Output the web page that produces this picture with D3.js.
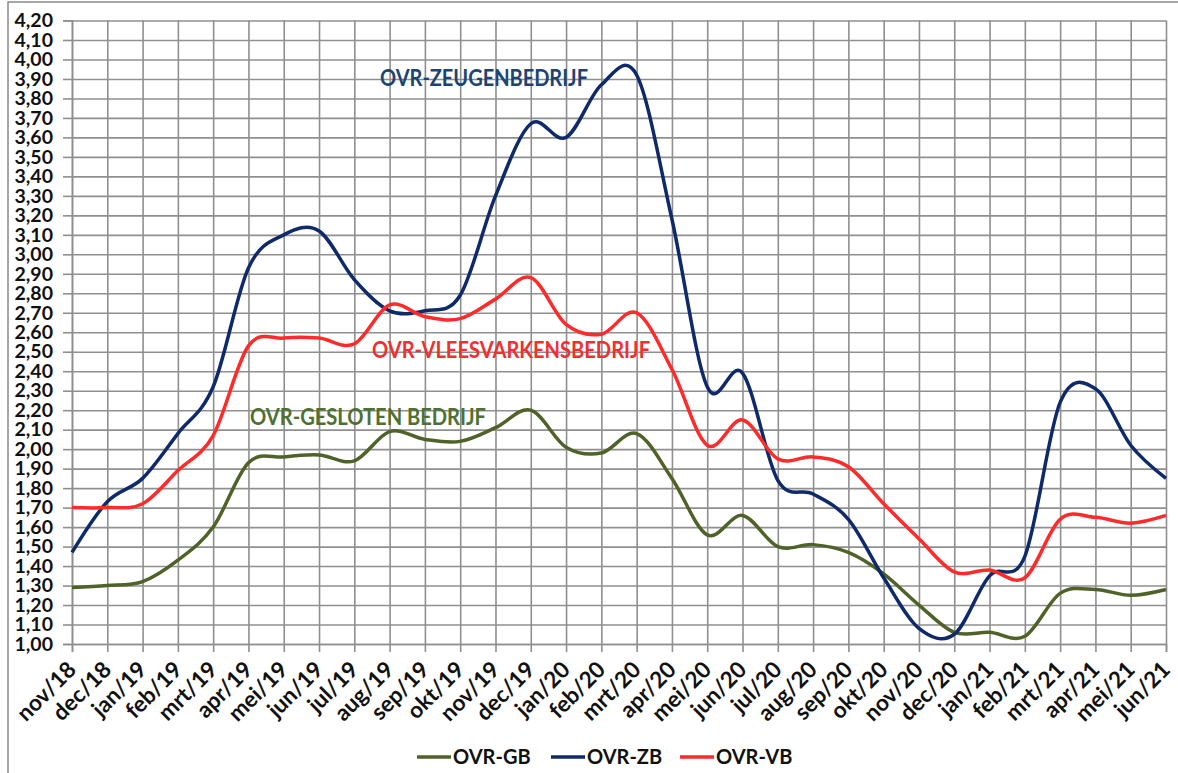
<!DOCTYPE html>
<html>
<head>
<meta charset="utf-8">
<script src="https://cdn.jsdelivr.net/npm/d3@7"></script>
<style>
  body { margin: 0; background: #fff; }
  svg text { font-family: Lato, "Open Sans", sans-serif; font-weight: bold; }
</style>
</head>
<body>
<svg id="chart" width="1178" height="773"></svg>
<script>
// ── Data ──
const months = ['nov/18','dec/18','jan/19','feb/19','mrt/19','apr/19','mei/19','jun/19','jul/19','aug/19',
  'sep/19','okt/19','nov/19','dec/19','jan/20','feb/20','mrt/20','apr/20','mei/20','jun/20','jul/20',
  'aug/20','sep/20','okt/20','nov/20','dec/20','jan/21','feb/21','mrt/21','apr/21','mei/21','jun/21'];

const ovrGB = [1.29,1.30,1.32,1.43,1.60,1.93,1.96,1.97,1.94,2.09,2.05,2.04,2.11,2.20,2.01,1.98,2.08,1.85,
  1.56,1.66,1.50,1.51,1.47,1.36,1.20,1.06,1.06,1.04,1.26,1.28,1.25,1.28];
const ovrZB = [1.47,1.73,1.85,2.08,2.32,2.93,3.10,3.12,2.87,2.71,2.71,2.79,3.30,3.67,3.60,3.87,3.92,3.18,
  2.32,2.39,1.84,1.77,1.64,1.34,1.08,1.05,1.35,1.45,2.24,2.31,2.02,1.85];
const ovrVB = [1.70,1.70,1.72,1.89,2.07,2.53,2.57,2.57,2.54,2.74,2.68,2.67,2.77,2.88,2.64,2.59,2.70,2.41,
  2.02,2.15,1.95,1.96,1.91,1.72,1.54,1.37,1.38,1.34,1.64,1.65,1.62,1.66];

const yTicks = [1.0,1.1,1.2,1.3,1.4,1.5,1.6,1.7,1.8,1.9,2.0,2.1,2.2,2.3,2.4,2.5,2.6,2.7,2.8,2.9,
  3.0,3.1,3.2,3.3,3.4,3.5,3.6,3.7,3.8,3.9,4.0,4.1,4.2];

const series = [
  { key: 'OVR-GB', values: ovrGB, color: '#4f6228' },
  { key: 'OVR-ZB', values: ovrZB, color: '#0f2a6b' },
  { key: 'OVR-VB', values: ovrVB, color: '#ff2a2a' }
];

const labels = [
  { text: 'OVR-ZEUGENBEDRIJF', x: 380, y: 86, len: 208, color: '#1b4474' },
  { text: 'OVR-VLEESVARKENSBEDRIJF', x: 372, y: 358, len: 278, color: '#ee3030' },
  { text: 'OVR-GESLOTEN BEDRIJF', x: 250, y: 425, len: 236, color: '#4e7030' }
];

// ── Layout ──
const plotL = 72, plotR = 1166, plotT = 20.5, plotB = 644;
const gridColor = '#8f8f8f';

const svg = d3.select('#chart');

// outer chart frame
svg.append('rect').attr('x', 8).attr('y', 2).attr('width', 1200).attr('height', 800)
  .attr('fill', '#fff').attr('stroke', '#8a8a8a').attr('stroke-width', 1.5);

const x = d3.scalePoint().domain(months).range([plotL, plotR]);
const y = d3.scaleLinear().domain([1, 4.2]).range([plotB, plotT]);

// Grid
svg.append('g').attr('transform', `translate(${plotL},0)`)
  .call(d3.axisLeft(y).tickValues(yTicks).tickSize(-(plotR - plotL)).tickFormat(''))
  .call(g => g.select('.domain').remove())
  .selectAll('line').attr('stroke', gridColor).attr('stroke-width', 1.6);

svg.append('g').attr('transform', `translate(0,${plotB})`)
  .call(d3.axisBottom(x).tickSize(-(plotB - plotT)).tickFormat(''))
  .call(g => g.select('.domain').remove())
  .selectAll('line').attr('stroke', gridColor).attr('stroke-width', 1.6);

// Y axis
const yAxis = svg.append('g').attr('transform', `translate(${plotL},0)`)
  .call(d3.axisLeft(y).tickValues(yTicks).tickSize(9).tickPadding(10)
    .tickFormat(d => d.toFixed(2).replace('.', ',')));
yAxis.select('.domain').attr('stroke', gridColor).attr('stroke-width', 1.6);
yAxis.selectAll('line').attr('stroke', gridColor).attr('stroke-width', 1.6);
yAxis.selectAll('text').attr('fill', '#111').style('font-size', '19.5px');

// X axis
const xAxis = svg.append('g').attr('transform', `translate(0,${plotB})`)
  .call(d3.axisBottom(x).tickSize(8));
xAxis.select('.domain').attr('stroke', gridColor).attr('stroke-width', 1.6);
xAxis.selectAll('line').attr('stroke', gridColor).attr('stroke-width', 1.6);
xAxis.selectAll('text')
  .attr('fill', '#111').style('font-size', '22.5px')
  .attr('text-anchor', 'end')
  .attr('x', 0).attr('y', 0).attr('dx', 0).attr('dy', 0)
  .attr('transform', 'translate(5,27) rotate(-45)');

// Lines
const lineGen = d3.line()
  .x((d, i) => x(months[i])).y(d => y(d))
  .curve(d3.curveCatmullRom.alpha(0));

series.forEach(s => {
  svg.append('path').datum(s.values)
    .attr('fill', 'none').attr('stroke', s.color)
    .attr('stroke-width', 3.5).attr('stroke-linejoin', 'round')
    .attr('d', lineGen);
});

// Annotations
labels.forEach(l => {
  svg.append('text').attr('x', l.x).attr('y', l.y)
    .attr('fill', l.color).style('font-size', '22px')
    .attr('textLength', l.len).attr('lengthAdjust', 'spacingAndGlyphs')
    .text(l.text);
});

// Legend
const legendX = [417, 551, 680];
const legend = svg.append('g').attr('transform', 'translate(0,757)');
series.forEach((s, i) => {
  legend.append('line').attr('x1', legendX[i]).attr('x2', legendX[i] + 34)
    .attr('y1', 0).attr('y2', 0).attr('stroke', s.color).attr('stroke-width', 3.5);
  legend.append('text').attr('x', legendX[i] + 36).attr('y', 7)
    .attr('fill', '#111').style('font-size', '20px').text(s.key);
});
</script>
</body>
</html>
